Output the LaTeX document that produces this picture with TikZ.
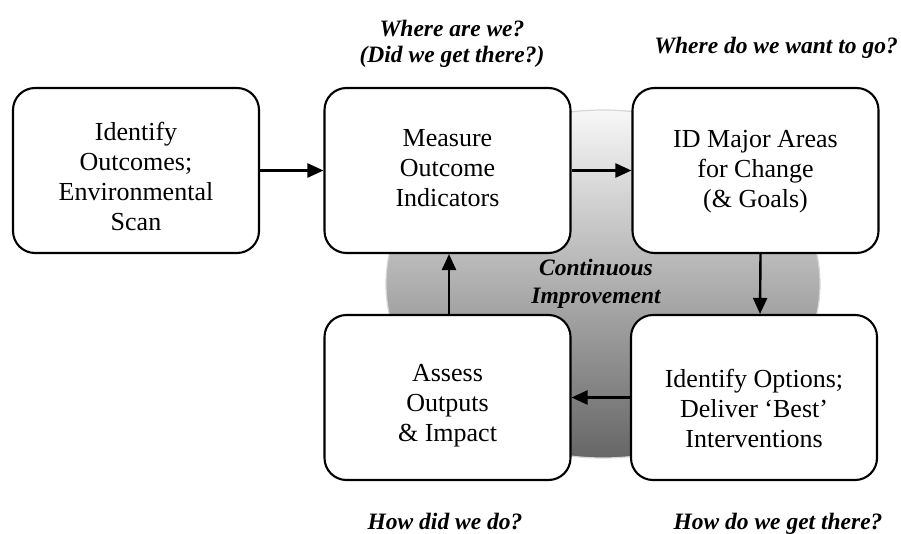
\documentclass[tikz,border=0pt]{standalone}
\usepackage{fontspec}
\setmainfont{Liberation Serif}
\usetikzlibrary{arrows.meta}
\definecolor{gtop}{gray}{0.97}
\definecolor{gmid}{gray}{0.78}
\definecolor{gbot}{gray}{0.40}
\definecolor{grim}{gray}{0.84}
\begin{document}
\begin{tikzpicture}[x=1pt,y=-1pt,
  box/.style={draw, line width=2.1pt, rounded corners=22pt, fill=white,
    minimum width=246pt, minimum height=165pt, inner sep=0pt},
  boxtext/.style={align=center, font=\fontsize{26}{30}\selectfont, inner sep=0pt},
  qlabel/.style={font=\fontsize{23.5}{26.5}\selectfont\bfseries\itshape,
    align=center, inner sep=0pt},
  arr/.style={line width=2.4pt, -{Triangle[length=16pt,width=14pt]}}]
\useasboundingbox (0,0) rectangle (901,534);
% continuous improvement disc
\shade[top color=gtop, middle color=gmid, bottom color=gbot]
  (603,284) ellipse [x radius=217pt, y radius=174pt];
\draw[grim, line width=1.2pt] (603,284) ellipse [x radius=217pt, y radius=174pt];
\node[qlabel, font=\fontsize{23.5}{28.5}\selectfont\bfseries\itshape] (ci) at (596,284) {Continuous\\Improvement};
% boxes
\node[box] (b1) at (136,170.5) {};
\node[box] (b2) at (447.5,170.5) {};
\node[box] (b3) at (755.5,170.5) {};
\node[box] (b4) at (447.5,397.5) {};
\node[box] (b5) at (754,397.5) {};
\node[boxtext] (t1) at ([yshift=-6pt]b1.center) {Identify\\Outcomes;\\Environmental\\Scan};
\node[boxtext] (t2) at ([yshift=2pt]b2.center) {Measure\\Outcome\\Indicators};
\node[boxtext] (t3) at ([yshift=-1pt]b3.center) {ID Major Areas\\for Change\\(\& Goals)};
\node[boxtext] (t4) at ([yshift=-8pt]b4.center) {Assess\\Outputs\\\& Impact};
\node[boxtext] (t5) at ([yshift=-11pt]b5.center) {Identify Options;\\Deliver ‘Best’\\Interventions};
% question labels
\node[qlabel] (l1) at (452,44) {Where are we?\\(Did we get there?)};
\node[qlabel] (l2) at (776,48) {Where do we want to go?};
\node[qlabel, anchor=base] (l3) at (445,529) {How did we do?};
\node[qlabel, anchor=base] (l4) at (778,529) {How do we get there?};
% connectors
\draw[arr] (b1.east) -- (b2.west);
\draw[arr] (b2.east) -- (b3.west);
\draw[arr] ([xshift=5pt]b3.south) -- ([xshift=6pt]b5.north);
\draw[arr] (b5.west) -- (b4.east);
\draw[arr] ([xshift=1.5pt]b4.north) -- ([xshift=1.5pt]b2.south);
\end{tikzpicture}
\end{document}
